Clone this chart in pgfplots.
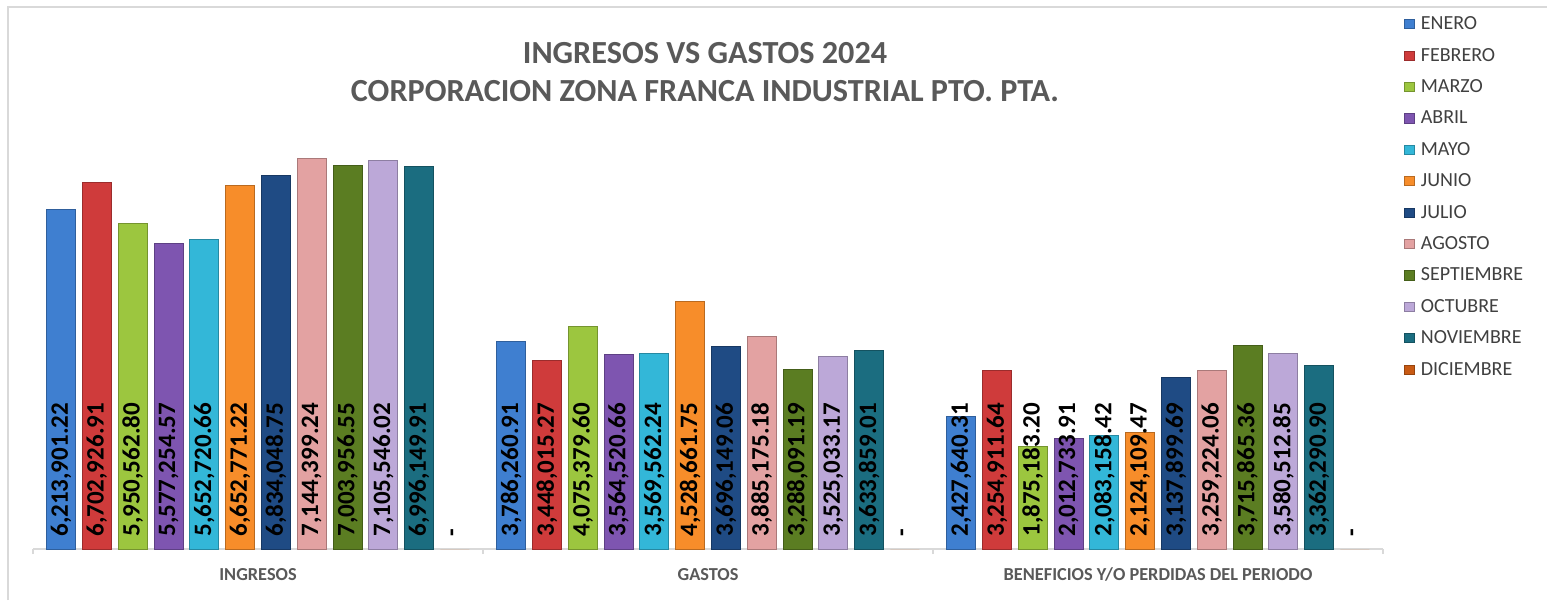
\documentclass[border=0pt]{standalone}
\usepackage{fontspec}
\setmainfont{Carlito}
\usepackage{pgfplots}
\usepackage{pgfplotstable}
\pgfplotsset{compat=1.18}
\definecolor{c1}{HTML}{3F7FD0}
\definecolor{c2}{HTML}{CF3B3B}
\definecolor{c3}{HTML}{9CC63F}
\definecolor{c4}{HTML}{7E55B0}
\definecolor{c5}{HTML}{33B7D8}
\definecolor{c6}{HTML}{F78D2A}
\definecolor{c7}{HTML}{1F4B84}
\definecolor{c8}{HTML}{E3A2A2}
\definecolor{c9}{HTML}{5B7D22}
\definecolor{c10}{HTML}{BCA8D8}
\definecolor{c11}{HTML}{1B6D80}
\definecolor{c12}{HTML}{C85A14}
\definecolor{tgray}{HTML}{595959}
\definecolor{lgray}{HTML}{404040}
\definecolor{bgray}{HTML}{D9D9D9}

\pgfplotstableread{
g v1 v2 v3 v4 v5 v6 v7 v8 v9 v10 v11 v12 l1 l2 l3 l4 l5 l6 l7 l8 l9 l10 l11 l12
0 6213901.22 6702926.91 5950562.80 5577254.57 5652720.66 6652771.22 6834048.75 7144399.24 7003956.55 7105546.02 6996149.91 0 6,213,901.22 6,702,926.91 5,950,562.80 5,577,254.57 5,652,720.66 6,652,771.22 6,834,048.75 7,144,399.24 7,003,956.55 7,105,546.02 6,996,149.91 {-}
1 3786260.91 3448015.27 4075379.60 3564520.66 3569562.24 4528661.75 3696149.06 3885175.18 3288091.19 3525033.17 3633859.01 0 3,786,260.91 3,448,015.27 4,075,379.60 3,564,520.66 3,569,562.24 4,528,661.75 3,696,149.06 3,885,175.18 3,288,091.19 3,525,033.17 3,633,859.01 {-}
2 2427640.31 3254911.64 1875183.20 2012733.91 2083158.42 2124109.47 3137899.69 3259224.06 3715865.36 3580512.85 3362290.90 0 2,427,640.31 3,254,911.64 1,875,183.20 2,012,733.91 2,083,158.42 2,124,109.47 3,137,899.69 3,259,224.06 3,715,865.36 3,580,512.85 3,362,290.90 {-}
}\datatab

\begin{document}
\begin{tikzpicture}
\useasboundingbox (0,0) rectangle (773.5pt,300pt);
\draw[bgray, line width=0.75pt] (4pt,0) -- (4pt,296.5pt) -- (773.5pt,296.5pt);
\node[font=\fontsize{16.1}{19}\selectfont\bfseries, text=tgray, align=center] at (352.5pt,264pt)
  {INGRESOS VS GASTOS 2024\\CORPORACION ZONA FRANCA INDUSTRIAL PTO. PTA.};
\begin{axis}[
  at={(16.5pt,25.5pt)}, anchor=south west,
  scale only axis, width=675pt, height=218.8pt,
  ybar, bar width=14.5pt,
  xmin=-0.5, xmax=2.5, ymin=0, ymax=8000000,
  enlargelimits=false, clip=false,
  axis x line*=bottom, axis y line=none,
  axis line style={bgray, line width=0.75pt},
  xtick={0,1,2},
  xticklabels={INGRESOS,GASTOS,{BENEFICIOS Y/O PERDIDAS DEL PERIODO}},
  major tick length=0pt,
  minor xtick={-0.5,0.5,1.5,2.5},
  minor tick length=2.5pt, tick align=outside,
  minor tick style={bgray, line width=0.75pt},
  xticklabel style={font=\fontsize{9.15}{10}\selectfont\bfseries, text=tgray, yshift=-6pt},
  legend style={at={(1.0156,1.2174)}, anchor=north west, draw=none, fill=none,
    inner sep=0pt, row sep=8.2pt, font=\fontsize{10}{11}\selectfont, text=lgray,
    nodes={inner sep=0pt, text height=6.5pt, text depth=1pt},
    /tikz/every odd column/.append style={column sep=3.2pt}},
  legend cell align=left,
  legend image code/.code={\draw[#1, line width=0.4pt] (0pt,-2.3pt) rectangle (4.6pt,2.3pt);},
]
\pgfplotsinvokeforeach{1,...,11}{
  \addplot[fill=c#1, draw=c#1!75!black, line width=0.5pt, bar shift={(#1-6.5)*17.9pt}]
    table[x=g, y=v#1] {\datatab};
}
\addplot[fill=c12, draw=none, bar shift={5.5*17.9pt},
  legend image code/.code={\draw[fill=c12, draw=c12!75!black, line width=0.4pt] (0pt,-2.3pt) rectangle (4.6pt,2.3pt);}]
  table[x=g, y=v12] {\datatab};
\pgfplotsinvokeforeach{1,...,12}{
  \addplot[forget plot, draw=none, fill=none, bar shift={(#1-6.5)*17.9pt},
    nodes near coords, point meta=explicit symbolic,
    every node near coord/.append style={font=\fontsize{12.5}{13}\selectfont\bfseries,
      text=black, inner sep=0pt, yshift=6pt, rotate=90, anchor=west}]
    table[x=g, y expr=0, meta=l#1] {\datatab};
}
\legend{ENERO,FEBRERO,MARZO,ABRIL,MAYO,JUNIO,JULIO,AGOSTO,SEPTIEMBRE,OCTUBRE,NOVIEMBRE,DICIEMBRE}
\end{axis}
\end{tikzpicture}
\end{document}
